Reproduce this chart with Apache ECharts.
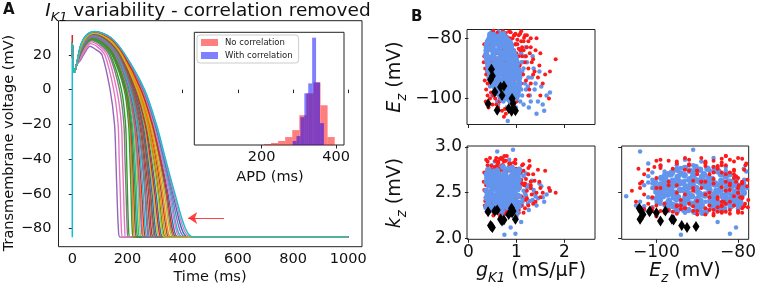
<!DOCTYPE html>
<html>
<head>
<meta charset="utf-8">
<script src="https://cdn.jsdelivr.net/npm/echarts@6/dist/echarts.min.js"></script>
<style>
  html, body { margin: 0; padding: 0; background: #fff; }
  #chart { width: 759px; height: 288px; }
</style>
</head>
<body>
<div id="chart"></div>
<script>
// ---------- panel A : action potential traces ----------
var tab10 = ['#1f77b4', '#ff7f0e', '#2ca02c', '#d62728', '#9467bd', '#8c564b', '#e377c2', '#7f7f7f', '#bcbd22', '#17becf'];
var apOnset = [[0, 27], [2, 16], [5, 10], [9, 10.5], [15, 14]];
var repolLevels = [20, 0, -20, -40, -60, -80];
var restV = -85;
var tStop = 1000;
var upstroke = [[0, -85], [0, 27]];
var upstrokeTip = [[0, 27], [0, 31.5]];
// tEnd, v(30ms), v(50ms), tPeak, vPeak, tShoulder, vShoulder, then times at +20, 0, -20, -40, -60, -80 mV
var apRows = [
  [330, 23.8, 29.8, 79, 32.2, 129, 28.9, 177, 232, 267, 287, 304, 318],
  [262, 22, 28, 75, 30.4, 117, 27.6, 159, 205, 228, 238, 247, 254],
  [209, 20, 26, 70, 28.6, 105, 26.2, 138, 178, 193, 197, 200, 204],
  [296, 23, 29, 77, 31.5, 123, 28.3, 169, 218, 248, 263, 277, 286],
  [173, 17, 22.5, 64, 25, 86, 23, 108, 137, 153, 158, 162, 167],
  [352, 24.2, 30.2, 80, 32.7, 133, 29.3, 181, 240, 278, 303, 323, 340],
  [183, 18, 23.8, 66, 26.5, 92, 24.5, 118, 150, 166, 170, 174, 178],
  [203, 19.5, 25.5, 69, 28.2, 102, 25.8, 134, 171, 187, 191, 195, 199],
  [318, 23.6, 29.6, 78, 32, 127, 28.7, 174, 227, 260, 279, 294, 307],
  [246, 21.4, 27.4, 73, 29.9, 114, 27.3, 154, 198, 218, 227, 233, 239],
  [384, 24.7, 30.7, 81, 33.1, 137, 29.6, 187, 250, 292, 322, 347, 368],
  [228, 20.8, 26.8, 72, 29.3, 110, 26.8, 147, 191, 208, 214, 218, 222],
  [340, 24, 30, 79, 32.5, 131, 29.1, 179, 236, 272, 295, 313, 328],
  [268, 22.2, 28.2, 75, 30.6, 118, 27.7, 161, 207, 231, 243, 252, 260],
  [410, 25, 31, 82, 33.3, 139, 29.8, 189, 256, 299, 331, 360, 388],
  [290, 22.9, 28.9, 77, 31.3, 122, 28.2, 167, 216, 244, 259, 271, 281],
  [194, 19, 24.8, 68, 27.5, 98, 25.2, 127, 161, 178, 182, 186, 190],
  [372, 24.5, 30.5, 81, 33, 136, 29.5, 185, 247, 287, 316, 339, 357],
  [252, 21.6, 27.6, 74, 30.1, 115, 27.4, 156, 201, 222, 232, 239, 245],
  [400, 24.9, 30.9, 81, 33.3, 138, 29.7, 188, 254, 296, 328, 356, 380],
  [312, 23.4, 29.4, 78, 31.9, 126, 28.6, 173, 225, 256, 274, 289, 301],
  [358, 24.3, 30.3, 80, 32.8, 134, 29.4, 182, 242, 281, 307, 328, 345],
  [222, 20.5, 26.5, 71, 29, 108, 26.6, 144, 188, 204, 209, 213, 217],
  [324, 23.7, 29.7, 79, 32.1, 128, 28.8, 176, 229, 264, 283, 299, 313],
  [280, 22.6, 28.6, 76, 31, 120, 28, 164, 212, 238, 252, 263, 271],
  [234, 21, 27, 72, 29.5, 111, 27, 149, 193, 211, 218, 223, 228],
  [392, 24.8, 30.8, 81, 33.2, 138, 29.7, 188, 252, 294, 325, 352, 375],
  [302, 23.2, 29.2, 77, 31.6, 124, 28.4, 170, 221, 251, 267, 281, 292],
  [366, 24.4, 30.4, 80, 32.9, 135, 29.5, 184, 245, 285, 312, 334, 352],
  [274, 22.4, 28.4, 76, 30.8, 119, 27.8, 162, 209, 234, 247, 257, 265],
  [420, 25.1, 31.1, 82, 33.4, 139, 29.8, 190, 258, 301, 334, 365, 396],
  [346, 24.1, 30.1, 80, 32.6, 132, 29.2, 180, 238, 275, 299, 318, 334],
  [240, 21.2, 27.2, 73, 29.7, 112, 27.1, 152, 196, 214, 222, 228, 233],
  [378, 24.6, 30.6, 81, 33.1, 137, 29.6, 186, 249, 290, 319, 343, 362],
  [258, 21.8, 27.8, 74, 30.3, 116, 27.5, 158, 203, 225, 236, 244, 251],
  [306, 23.3, 29.3, 78, 31.7, 125, 28.5, 171, 222, 253, 270, 284, 296],
  [430, 25.2, 31.2, 82, 33.4, 140, 29.9, 191, 260, 303, 336, 368, 403],
  [284, 22.7, 28.7, 76, 31.1, 121, 28.1, 165, 214, 240, 255, 266, 275],
  [336, 23.9, 29.9, 79, 32.4, 130, 29, 178, 234, 270, 292, 310, 324],
  [440, 25.3, 31.3, 82, 33.5, 140, 29.9, 192, 262, 305, 338, 372, 410]
];
var arrowFrom = [550, -74];
var arrowTo = [420, -74];
var timeTicks = [0, 200, 400, 600, 800, 1000];
var voltTicks = [-80, -60, -40, -20, 0, 20];

// inset histogram (APD, ms)
var redBinStart = [206, 225, 244, 263, 282, 301, 320, 339, 358, 377];
var redBinWidth = 19;
var redCounts = [1, 2, 4, 8, 15, 30, 52, 63, 40, 8];
var blueBinStart = [283, 293.5, 304, 314.5, 325, 335.5, 346, 356.5];
var blueBinWidth = 10.5;
var blueCounts = [4, 9, 28, 52, 62, 108, 63, 22];
var apdTicks = [200, 400];

// ---------- panel B : parameter scatter, [gK1, Ez, kz] ----------
var redPoints = [
  [0.88,-78,2.82],[0.95,-79,2.45],[1.02,-80.5,2.68],[1.08,-78.5,2.35],[1.15,-81,2.74],[1.22,-83,2.52],
  [1.28,-85,2.79],[1.05,-83.5,2.40],[0.98,-82,2.86],[1.12,-86,2.60],[1.18,-88,2.33],[1.25,-90,2.70],
  [1.32,-88,2.48],[1.38,-91,2.63],[0.92,-80,2.30],[1.00,-85,2.76],[1.07,-89,2.55],[1.14,-92,2.81],
  [1.20,-94,2.42],[1.30,-95,2.58],[0.85,-77.8,2.57],[0.78,-78.3,2.38],[1.10,-77.7,2.64],[1.45,-93,2.75],
  [1.50,-99,2.55],[1.82,-87,2.50],[1.40,-84,2.40],[1.27,-97,2.85],[1.60,-92,2.74],[1.68,-100,2.55],
  [0.33,-86,2.72],[0.35,-90,2.41],[0.34,-94,2.36],[0.37,-97,2.58],[0.40,-99,2.80],[0.36,-101,2.45],
  [0.42,-103,2.32],[0.45,-100,2.66],[0.38,-84,2.29],[0.33,-82,2.53],[0.40,-95,2.84],[0.47,-98,2.38],
  [0.50,-102,2.75],[0.44,-91,2.30],[0.32,-88,2.62],[0.37,-92,2.86],
  [0.62,-103,2.48],[0.70,-104,2.60],[0.78,-105,2.40],[0.86,-104,2.55],[0.94,-103,2.70],[0.65,-101,2.33],
  [0.74,-106,2.52],[0.90,-100.5,2.78],[1.00,-101,2.30],[0.56,-100,2.85],
  [0.52,-77.5,2.42],[0.60,-78.2,2.80],[0.72,-77.6,2.34],[0.66,-79,2.87],
  [0.55,-85,2.78],[0.62,-88,2.83],[0.70,-92,2.80],[0.78,-86,2.85],[0.65,-96,2.76],[0.75,-83,2.90],
  [0.82,-90,2.74],[0.58,-93,2.88],[0.68,-81,2.75],[0.85,-95,2.82],[0.48,-88,2.79],[0.72,-99,2.86],
  [0.58,-90,2.30],[0.66,-86,2.27],[0.74,-93,2.33],[0.82,-83,2.29],[0.90,-91,2.35],[0.62,-97,2.31],
  [0.70,-84,2.36],[0.86,-88,2.26],[0.54,-95,2.35],[0.78,-98,2.28],[0.95,-94,2.32],[0.66,-100,2.24],
  [0.60,-82,2.60],[0.68,-80,2.50],[0.75,-81,2.70],[0.80,-79.5,2.45],[0.64,-83,2.38],[0.72,-84,2.80],
  [0.56,-81,2.66],[0.88,-84,2.56],[0.82,-82,2.40],[0.70,-80.5,2.62],
  [0.90,-104.4,2.76],[0.76,-103.5,2.62],[1.05,-79,2.28],[1.16,-79.8,2.58],
  [1.05,-90,2.74],[1.20,-86,2.65],[1.35,-92,2.38],[1.48,-89,2.62],[1.55,-95,2.50],[1.70,-91,2.52],
  [1.25,-99,2.77],[1.10,-95,2.36],
  [0.60,-91,2.55],[0.75,-89,2.62],[0.85,-93,2.48],[0.68,-87,2.45],[0.92,-97,2.62],
  [0.45,-80,2.88],[0.62,-81,2.84],[0.80,-83,2.90],[0.95,-84,2.83],[0.70,-85,2.29],[0.52,-86,2.25],
  [0.88,-87,2.31],[1.02,-82,2.27],[0.58,-79,2.33],[0.76,-80,2.28],[0.66,-84,2.87],[0.84,-86,2.78],
  [1.10,-81,2.46],[0.50,-83,2.70],[0.74,-88,2.84],[0.96,-79,2.62],[0.64,-82,2.72],[0.86,-80,2.66],
  [0.55,-87,2.36],[0.92,-85,2.43],[0.68,-89,2.88],[0.80,-90,2.26],[1.08,-84,2.72],[0.60,-85,2.34],
  [0.72,-82,2.31],[1.30,-80,2.55],[1.22,-79,2.44],[0.42,-82,2.58],[0.48,-84,2.35],[0.98,-88,2.82],
  [0.52,-99,2.30],[0.64,-95,2.27],[0.80,-100,2.36],[0.46,-93,2.33],[0.90,-96,2.29],[0.58,-102,2.38],
  [1.12,-83,2.80],[1.25,-81,2.36],[1.35,-87,2.70],[1.18,-79,2.60],[1.42,-80,2.50],[1.05,-86,2.31],
  [0.98,-78.5,2.75],[1.30,-83,2.62],[1.50,-85,2.45],[1.15,-84,2.28]
];
var blueSpread = [
  [0.36,-84,2.52],[0.38,-88,2.60],[0.40,-81,2.45],[0.42,-93,2.57],[0.44,-78.5,2.64],[0.41,-86,2.38],
  [0.39,-91,2.68],[0.45,-96,2.50],[0.50,-99,2.42],[0.48,-78,2.73],[0.57,-78.8,2.35],[0.63,-77.8,2.55],
  [0.70,-78.6,2.76],[0.77,-80,2.33],[0.83,-81,2.62],[0.88,-83,2.74],[0.95,-85,2.37],[1.00,-87,2.66],
  [1.05,-89,2.47],[1.08,-93,2.58],[1.12,-91,2.36],[1.10,-97,2.71],[1.04,-99,2.53],[0.97,-100,2.44],
  [0.92,-102,2.61],[0.86,-101,2.34],[0.80,-103,2.58],[0.73,-101,2.72],[0.66,-99,2.38],[0.60,-101,2.64],
  [0.55,-97,2.33],
  [1.18,-95,2.45],[1.22,-88,2.56],[1.28,-99,2.41],[1.32,-93,2.63],[1.38,-97,2.50],[1.45,-101,2.44],
  [1.52,-96,2.57],[1.58,-104,2.40],[1.63,-99,2.48],[1.70,-98,2.52],[1.48,-91,2.60],[1.26,-103,2.31],
  [1.15,-102,2.68],[1.42,-105,2.36],[0.82,-107.4,2.46],[1.34,-86,2.42],[1.20,-83,2.71],
  [0.60,-104,2.95],[0.93,-91,2.97],[0.75,-94,2.04],[0.98,-82,2.05],[0.88,-80.5,2.12],[1.10,-85,2.18],
  [0.70,-86,2.88],[0.55,-89,2.84],[0.85,-93,2.86],[1.00,-96,2.24],[0.62,-102,2.82],[0.48,-95,2.80],
  [0.52,-80,2.47],[0.58,-94,2.77],[0.65,-97,2.30],[0.68,-83,2.78],[0.74,-97,2.36],[0.79,-84,2.30],
  [0.91,-86,2.78],[0.96,-89,2.29],[1.06,-95,2.76],[0.53,-93,2.28],[0.43,-87,2.74],[0.46,-80,2.31],
  [0.61,-91,2.80],[0.77,-88,2.27],[0.86,-99,2.79],[0.71,-100,2.26],[1.13,-88,2.40],[0.99,-103,2.35],
  [0.89,-97,2.32],[0.67,-89,2.34],[0.76,-92,2.75],[0.84,-90,2.37],[0.93,-98,2.70],[0.57,-85,2.31],
  [0.63,-98,2.73],
  [1.15,-90,2.52],[1.20,-97,2.47],[1.25,-93,2.58],[1.12,-99,2.44],[1.30,-101,2.55],[1.40,-95,2.46],
  [1.18,-86,2.49],[1.08,-101,2.60],[1.36,-90,2.53],[1.55,-102,2.45],[1.24,-96,2.38],[1.10,-88,2.62]
];
var blueCore = [
  [0.45,-79.2,2.46],[0.52,-78.8,2.60],[0.60,-79.5,2.40],[0.67,-79.0,2.55],[0.73,-78.6,2.50],
  [0.43,-80.3,2.58],[0.52,-79.8,2.42],[0.61,-80.1,2.52],[0.70,-80.6,2.64],[0.78,-79.9,2.37],
  [0.40,-81.2,2.37],[0.51,-80.7,2.66],[0.62,-81.4,2.47],[0.72,-81.0,2.41],[0.83,-80.8,2.60],
  [0.38,-82.3,2.62],[0.50,-81.8,2.35],[0.63,-82.1,2.70],[0.74,-82.5,2.50],[0.87,-81.7,2.44],
  [0.38,-83.1,2.44],[0.51,-82.7,2.56],[0.64,-83.4,2.32],[0.77,-83.0,2.68],[0.89,-82.8,2.53],
  [0.38,-84.2,2.70],[0.52,-83.8,2.47],[0.66,-84.4,2.58],[0.79,-83.9,2.36],[0.92,-84.1,2.63],
  [0.37,-85.3,2.52],[0.52,-84.8,2.73],[0.67,-85.2,2.40],[0.81,-85.6,2.60],[0.95,-84.9,2.31],
  [0.37,-86.1,2.34],[0.52,-85.7,2.59],[0.68,-86.4,2.65],[0.82,-86.0,2.45],[0.97,-85.8,2.74],
  [0.39,-87.2,2.66],[0.54,-86.8,2.41],[0.69,-87.0,2.53],[0.84,-87.5,2.76],[0.99,-86.7,2.38],
  [0.40,-88.1,2.48],[0.55,-88.4,2.70],[0.70,-87.8,2.30],[0.85,-88.2,2.57],[1.00,-88.0,2.62],
  [0.41,-89.3,2.75],[0.56,-88.9,2.36],[0.71,-89.1,2.61],[0.86,-89.5,2.49],[1.01,-88.7,2.28],
  [0.42,-90.2,2.40],[0.57,-89.8,2.63],[0.72,-90.4,2.78],[0.87,-90.0,2.33],[1.02,-90.3,2.55],
  [0.44,-91.1,2.58],[0.59,-90.7,2.29],[0.74,-91.3,2.46],[0.89,-91.0,2.68],[1.04,-90.8,2.72],
  [0.45,-92.2,2.31],[0.60,-91.8,2.74],[0.75,-92.0,2.56],[0.90,-92.4,2.42],[1.05,-91.9,2.64],
  [0.47,-93.1,2.69],[0.61,-92.7,2.50],[0.76,-93.3,2.37],[0.91,-93.0,2.77],[1.05,-92.8,2.46],
  [0.49,-94.2,2.53],[0.63,-93.8,2.33],[0.77,-94.0,2.71],[0.91,-94.4,2.60],[1.05,-93.7,2.39],
  [0.52,-95.1,2.43],[0.66,-94.8,2.67],[0.79,-95.3,2.50],[0.92,-95.0,2.30],[1.06,-94.9,2.75],
  [0.55,-96.2,2.72],[0.68,-95.7,2.45],[0.80,-96.0,2.63],[0.93,-96.4,2.54],[1.05,-95.8,2.35],
  [0.57,-97.1,2.39],[0.69,-96.8,2.61],[0.81,-97.3,2.48],[0.93,-97.0,2.70],[1.05,-96.7,2.56],
  [0.61,-98.2,2.64],[0.72,-97.8,2.37],[0.82,-98.0,2.58],[0.93,-98.4,2.46],[1.03,-97.9,2.68],
  [0.66,-99.1,2.50],[0.75,-98.8,2.66],[0.84,-99.3,2.42],[0.93,-99.0,2.59],[1.02,-98.7,2.47],
  [0.70,-100.2,2.56],[0.78,-99.8,2.44],[0.85,-100.4,2.62],[0.93,-100.0,2.51],[1.00,-99.7,2.40],
  [0.48,-80.8,2.51],[0.57,-81.6,2.57],[0.66,-82.9,2.39],[0.80,-82.3,2.58],[0.45,-83.6,2.61],
  [0.59,-84.5,2.34],[0.73,-84.7,2.52],[0.86,-85.3,2.49],[0.44,-86.5,2.45],[0.61,-86.9,2.62],
  [0.76,-86.3,2.35],[0.91,-87.3,2.56],[0.47,-88.6,2.58],[0.63,-88.1,2.47],[0.78,-88.8,2.67],
  [0.93,-89.2,2.41],[0.49,-89.6,2.32],[0.64,-90.1,2.52],[0.80,-89.9,2.43],[0.95,-90.6,2.64],
  [0.51,-91.6,2.65],[0.67,-91.4,2.38],[0.82,-91.7,2.58],[0.97,-92.1,2.49],[0.54,-92.9,2.44],
  [0.69,-93.6,2.61],[0.84,-93.4,2.53],[0.99,-93.2,2.31],[0.57,-94.6,2.62],[0.71,-95.2,2.36],
  [0.86,-94.7,2.45],[1.00,-95.4,2.58],[0.62,-96.6,2.50],[0.75,-96.5,2.70],[0.88,-96.9,2.41],
  [0.65,-97.6,2.55],[0.78,-98.4,2.52],[0.89,-97.7,2.63],[0.72,-99.5,2.47],[0.89,-99.6,2.55],
  [0.55,-79.9,2.55],[0.64,-80.9,2.44],[0.75,-81.9,2.62],[0.83,-83.6,2.45],[0.92,-86.7,2.60]
];
var blackPoints = [
  [0.48,-90.3,2.13],[0.50,-92.5,2.12],[0.46,-93.8,2.14],[0.55,-97.8,2.30],[0.67,-96.2,2.21],
  [0.70,-99.0,2.19],[0.41,-101.7,2.29],[0.60,-103.9,2.31],[0.84,-103.3,2.26],[0.91,-100.0,2.28],
  [0.93,-101.6,2.30],[0.98,-104.0,2.21],[0.90,-104.2,2.33],[0.74,-95.8,2.20]
];
var gTicks = [0, 1, 2];
var ezTicks = [-100, -80];
var kzTicks = [2.0, 2.5, 3.0];

// ---------- helpers ----------
var FONT = 'DejaVu Sans';
function minus(v) { return String(v).replace('-', '\u2212'); }

function axis(gridIndex, min, max, ticks, size, showLabels, fmt, margin) {
  return {
    type: 'value', gridIndex: gridIndex, min: min, max: max,
    axisLine: { show: false },
    splitLine: { show: false },
    axisTick: { show: true, customValues: ticks, length: 3.5, lineStyle: { color: '#222', width: 1 } },
    axisLabel: {
      show: showLabels, customValues: ticks, formatter: fmt || minus,
      fontSize: size, fontFamily: FONT, color: '#111', margin: margin
    }
  };
}

function sub(fs) {
  return {
    i: { fontFamily: FONT, fontStyle: 'italic', fontSize: fs, lineHeight: fs * 1.45, fill: '#111' },
    s: { fontFamily: FONT, fontStyle: 'italic', fontSize: fs * 0.7, lineHeight: fs * 0.7 + 1, verticalAlign: 'bottom', fill: '#111' },
    n: { fontFamily: FONT, fontSize: fs, lineHeight: fs * 1.45, fill: '#111' }
  };
}

function label(text, x, y, fs, rotate) {
  return {
    type: 'text', x: x, y: y, rotation: rotate ? Math.PI / 2 : 0, silent: true,
    style: {
      text: text, rich: sub(fs), fontFamily: FONT, fontSize: fs, fill: '#111',
      align: 'center', verticalAlign: 'middle'
    }
  };
}

var series = [];

// traces
apRows.forEach(function (r, i) {
  var pts = apOnset.concat([[30, r[1]], [50, r[2]], [r[3], r[4]], [r[5], r[6]]]);
  repolLevels.forEach(function (v, k) { pts.push([r[7 + k], v]); });
  pts.push([r[0], restV], [tStop, restV]);
  series.push({
    type: 'line', xAxisIndex: 0, yAxisIndex: 0, data: pts, smooth: 0.3,
    symbol: 'none', silent: true, lineStyle: { width: 1.4, color: tab10[i % 10] }
  });
});
series.push({
  type: 'line', xAxisIndex: 0, yAxisIndex: 0, data: upstrokeTip, symbol: 'none', silent: true,
  lineStyle: { width: 1.5, color: '#d62728' }
});
series.push({
  type: 'line', xAxisIndex: 0, yAxisIndex: 0, data: upstroke, symbol: 'none', silent: true,
  lineStyle: { width: 1.5, color: '#17becf' }
});
series.push({
  type: 'lines', coordinateSystem: 'cartesian2d', xAxisIndex: 0, yAxisIndex: 0, silent: true,
  symbol: ['none', 'arrow'], symbolSize: 9,
  lineStyle: { color: '#f22', width: 1.2, opacity: 0.85 },
  data: [{ coords: [arrowFrom, arrowTo] }]
});

// histogram
function hist(name, starts, width, counts, color) {
  return {
    type: 'custom', name: name, xAxisIndex: 1, yAxisIndex: 1, silent: true,
    itemStyle: { color: color },
    encode: { x: [0, 1], y: 2 },
    data: starts.map(function (s, i) { return [s, s + width, counts[i]]; }),
    renderItem: function (params, api) {
      var p0 = api.coord([api.value(0), 0]);
      var p1 = api.coord([api.value(1), api.value(2)]);
      return {
        type: 'rect',
        shape: { x: p0[0], y: p1[1], width: p1[0] - p0[0], height: p0[1] - p1[1] },
        style: { fill: color }
      };
    }
  };
}
series.push(hist('No correlation', redBinStart, redBinWidth, redCounts, 'rgba(255,0,0,0.5)'));
series.push(hist('With correlation', blueBinStart, blueBinWidth, blueCounts, 'rgba(0,0,255,0.5)'));

// scatter panels: [xDim, yDim, core dot size, red above core] for grids 2,3,4
var views = [[0, 1, 6, false], [0, 2, 6, false], [1, 2, 6.5, true]];
views.forEach(function (v, vi) {
  var spread = { pts: blueSpread, color: '#6495ed', size: 4.5, symbol: 'circle' };
  var red = { pts: redPoints, color: '#ff1a1a', size: 4, symbol: 'circle' };
  var core = { pts: blueCore, color: '#6495ed', size: v[2], symbol: 'circle' };
  var black = { pts: blackPoints, color: '#000', size: [7, 11], symbol: 'diamond' };
  var groups = v[3] ? [spread, core, red, black] : [spread, red, core, black];
  groups.forEach(function (g) {
    series.push({
      type: 'scatter', xAxisIndex: vi + 2, yAxisIndex: vi + 2, silent: true,
      symbol: g.symbol, symbolSize: g.size,
      itemStyle: { color: g.color, opacity: 1 },
      data: g.pts.map(function (p) { return [p[v[0]], p[v[1]]]; })
    });
  });
});

var frame = { show: true, borderColor: '#222', borderWidth: 1, backgroundColor: 'transparent' };
var option = {
  animation: false,
  grid: [
    Object.assign({ left: 58.5, top: 20.7, width: 303.5, height: 226 }, frame),
    Object.assign({ left: 194.3, top: 32.3, width: 149.7, height: 112.7 }, frame, { backgroundColor: '#fff' }),
    Object.assign({ left: 467, top: 29.5, width: 128, height: 95 }, frame),
    Object.assign({ left: 467, top: 146, width: 128, height: 93.3 }, frame),
    Object.assign({ left: 621.7, top: 146, width: 127.6, height: 93.3 }, frame)
  ],
  xAxis: [
    axis(0, -50, 1050, timeTicks, 14.5, true, null, 5),
    axis(1, 19, 421, apdTicks, 14.5, true, null, 5),
    axis(2, -0.03, 2.64, gTicks, 17, false, null, 6),
    axis(3, -0.03, 2.64, gTicks, 17, true, null, 5),
    axis(4, -108.5, -77.4, ezTicks, 17, true, null, 5)
  ],
  yAxis: [
    axis(0, -90.5, 39.7, voltTicks, 14.5, true, null, 7),
    { type: 'value', gridIndex: 1, min: 0, max: 113.4, show: false },
    axis(2, -108.6, -77.1, ezTicks, 17, true, null, 5),
    axis(3, 1.99, 3.01, kzTicks, 17, true, function (v) { return v.toFixed(1); }, 5),
    axis(4, 1.99, 3.01, kzTicks, 17, false, null, 5)
  ],
  legend: {
    left: 197, top: 35, orient: 'vertical', itemGap: 4, itemWidth: 17, itemHeight: 7,
    padding: [3, 6, 3, 4], borderColor: '#ccc', borderWidth: 1, borderRadius: 3,
    backgroundColor: 'rgba(255,255,255,0.8)', icon: 'rect',
    textStyle: { fontFamily: FONT, fontSize: 8.5, color: '#222', padding: [0, 0, 0, 2] },
    data: ['No correlation', 'With correlation']
  },
  graphic: [
    { type: 'text', left: 3, top: 3, silent: true, style: { text: 'A', fontFamily: FONT, fontWeight: 'bold', fontSize: 15, fill: '#111' } },
    { type: 'text', left: 411, top: 10, silent: true, style: { text: 'B', fontFamily: FONT, fontWeight: 'bold', fontSize: 15, fill: '#111' } },
    label('{i|I}{s|K1}{n| variability - correlation removed}', 208, 11, 18.5, false),
    label('{n|Transmembrane voltage (mV)}', 9, 143, 14.5, true),
    label('{n|Time (ms)}', 210, 277, 14.5, false),
    label('{n|APD (ms)}', 270, 177, 14.5, false),
    label('{i|E}{s|z}{n| (mV)}', 395, 77, 19, true),
    label('{i|k}{s|z}{n| (mV)}', 395, 193, 19, true),
    label('{i|g}{s|K1}{n| (mS/\u03bcF)}', 531, 271, 19, false),
    label('{i|E}{s|z}{n| (mV)}', 685, 271, 19, false)
  ],
  series: series
};

var chart = echarts.init(document.getElementById('chart'), null, { renderer: 'canvas' });
chart.setOption(option);
</script>
</body>
</html>
